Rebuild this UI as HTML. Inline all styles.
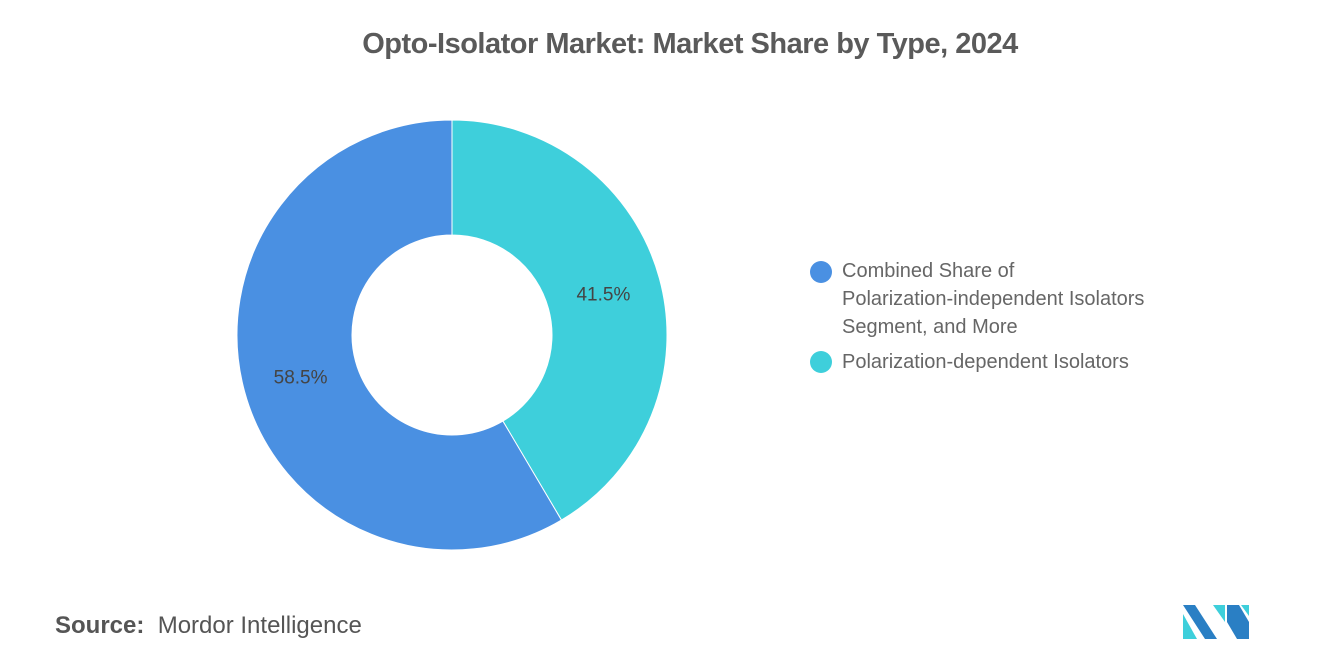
<!DOCTYPE html>
<html><head><meta charset="utf-8"><style>
body{margin:0;width:1320px;height:665px;background:#fff;font-family:"Liberation Sans",sans-serif;position:relative;overflow:hidden}
.t{position:absolute;top:28px;left:0;width:1380px;text-align:center;font-size:29px;font-weight:bold;color:#5a5a5a;letter-spacing:-0.5px}
.lg{position:absolute;left:812px;font-size:20px;color:#666;line-height:28px}
.dot{position:absolute;left:-2px;width:22px;height:22px;border-radius:50%}
.src{position:absolute;left:55px;top:612px;font-size:24px;color:#555}
</style></head><body>
<div class="t">Opto-Isolator Market: Market Share by Type, 2024</div>
<svg id="c" width="1320" height="665" style="position:absolute;left:0;top:0"></svg>
<div class="lg" style="top:257px"><div class="dot" style="background:#4a90e2;top:4px"></div><div style="margin-left:30px">Combined Share of<br>Polarization-independent Isolators<br>Segment, and More</div></div>
<div class="lg" style="top:348px"><div class="dot" style="background:#3ecfdb;top:3px"></div><div style="margin-left:30px">Polarization-dependent Isolators</div></div>
<div class="src"><b>Source:</b>&nbsp; Mordor Intelligence</div>
<svg width="70" height="40" style="position:absolute;left:1183px;top:602px">
<polygon points="0,3 12,3 34,37 22,37" fill="#2a7fc4"/><polygon points="0,12 14,37 0,37" fill="#3ecfdb"/>
<polygon points="30,3 42,3 42,20" fill="#3ecfdb"/><polygon points="44,3 56,3 66,20 66,37 54,37 44,20" fill="#2a7fc4"/><polygon points="58,3 66,3 66,14" fill="#3ecfdb"/>
</svg>
<script>
const categories=["Combined Share of Polarization-independent Isolators Segment, and More","Polarization-dependent Isolators"];
const values=[58.5,41.5];
const labels=["58.5%","41.5%"];
const colors=["#4a90e2","#3ecfdb"];
const svg=document.getElementById('c'),NS="http://www.w3.org/2000/svg";
const cx=452,cy=335,R=215,r=100;
const total=values.reduce((a,b)=>a+b,0);
function pt(a,rad){return [cx+rad*Math.sin(a),cy-rad*Math.cos(a)];}
// draw second series first starting at top clockwise, then first
let order=[1,0],start=0;
order.forEach(i=>{
 const sweep=values[i]/total*2*Math.PI,end=start+sweep,lg=sweep>Math.PI?1:0;
 const [x1,y1]=pt(start,R),[x2,y2]=pt(end,R),[x3,y3]=pt(end,r),[x4,y4]=pt(start,r);
 const p=document.createElementNS(NS,'path');
 p.setAttribute('d',`M${x1},${y1}A${R},${R} 0 ${lg} 1 ${x2},${y2}L${x3},${y3}A${r},${r} 0 ${lg} 0 ${x4},${y4}Z`);
 p.setAttribute('fill',colors[i]);p.setAttribute('stroke','#fff');p.setAttribute('stroke-width','1');
 
 
 svg.appendChild(p);
 const mid=(start+end)/2,[lx,ly]=pt(mid,157);
 const t=document.createElementNS(NS,'text');
 t.setAttribute('x',lx);t.setAttribute('y',ly+7);t.setAttribute('text-anchor','middle');
 t.setAttribute('font-size','19');t.setAttribute('fill','#444');t.setAttribute('font-family','Liberation Sans, sans-serif');
 t.textContent=labels[i];
 
 
 svg.appendChild(t);
 start=end;
});
</script>
</body></html>
